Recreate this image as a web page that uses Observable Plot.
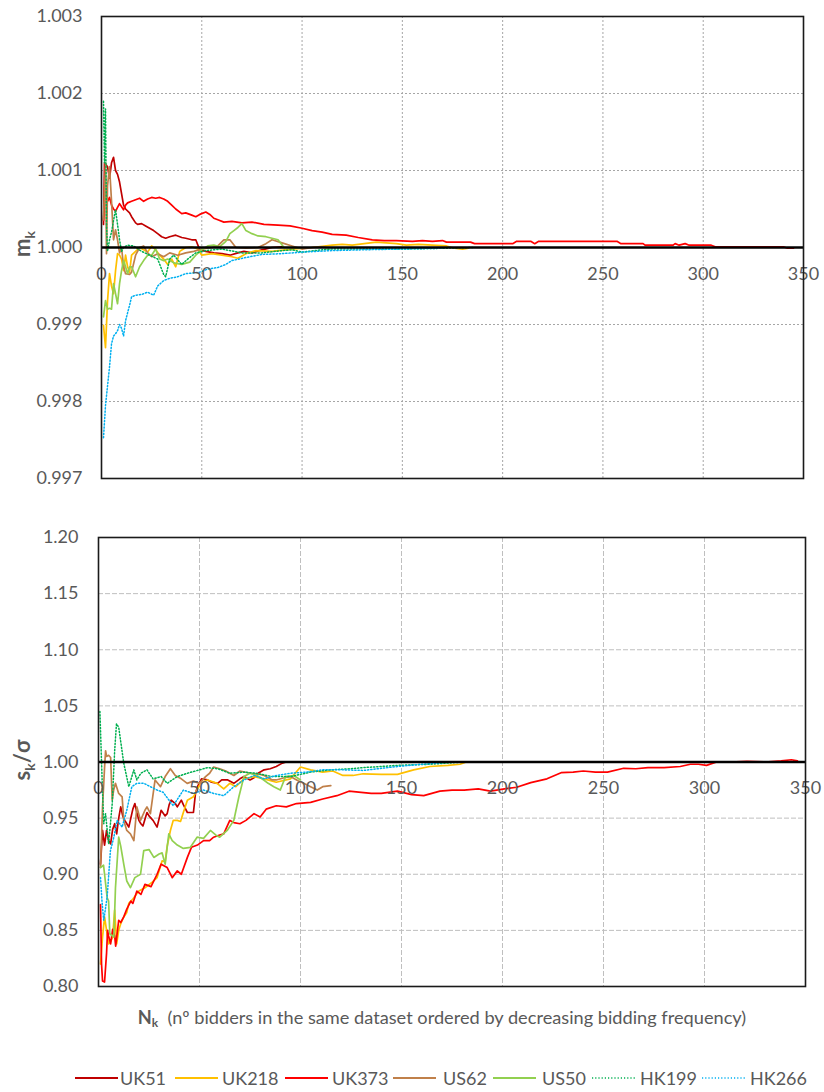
<!DOCTYPE html>
<html>
<head>
<meta charset="utf-8">
<script src="https://cdn.jsdelivr.net/npm/d3@7"></script>
<script src="https://cdn.jsdelivr.net/npm/@observablehq/plot@0.6"></script>
<style>
  html, body { margin: 0; padding: 0; background: #fff; }
  #wrap { position: relative; width: 824px; height: 1092px; font-family: Lato, "Open Sans", sans-serif; color: #595959; }
  #top, #bottom { position: absolute; left: 0; }
  #top { top: 0; }
  #bottom { top: 500px; }
  #xtitle { position: absolute; top: 1006px; left: 0; width: 884px; text-align: center; font-size: 18.2px; white-space: nowrap; }
  #xtitle b sub { font-size: 12px; vertical-align: -3px; }
  #legend { position: absolute; top: 1066px; left: 0; width: 824px; height: 26px; }
  .li { position: absolute; top: 0; height: 24px; font-size: 18px; line-height: 24px; white-space: nowrap; }
</style>
</head>
<body>
<div id="wrap">
  <div id="top"></div>
  <div id="bottom"></div>
  <div id="xtitle"><b>N<sub>k</sub></b>&nbsp; (nº bidders in the same dataset ordered by decreasing bidding frequency)</div>
  <div id="legend"></div>
</div>
<script>
// ---------- tick labels ----------
const xTicks = [0, 50, 100, 150, 200, 250, 300, 350];
const yTicksTop = [0.997, 0.998, 0.999, 1.000, 1.001, 1.002, 1.003];
const yTicksBottom = [0.80, 0.85, 0.90, 0.95, 1.00, 1.05, 1.10, 1.15, 1.20];

// ---------- series ----------
const seriesNames = ["UK51", "UK218", "UK373", "US62", "US50", "HK199", "HK266"];
const seriesColors = ["#C00000", "#FFC000", "#FF0000", "#C0804A", "#92D050", "#00B050", "#00B0F0"];
const seriesDotted = [false, false, false, false, false, true, true];

// top panel: m_k  ([N_k, value])
const UK51_m = [[1,1.0003],[1.5,1.0011],[3,1.00105],[4,1.0009],[5,1.0011],[6,1.00117],[7,1.001],[8,1.00095],[9,1.00085],[10,1.0007],[11,1.00055],[12,1.0005],[14,1.00045],[15,1.0004],[17,1.00032],[18,1.0003],[20,1.00031],[22,1.00028],[24,1.00025],[26,1.00022],[28,1.00018],[30,1.00014],[32,1.00012],[34,1.00014],[37,1.00016],[40,1.00013],[42,1.00012],[45,1.0001],[47,1.0001],[49,0.99997],[52,0.99995],[56,0.99993],[60,0.99992],[64,0.9999],[68,0.99993],[71,0.99995],[75,0.99993],[80,0.99997],[85,1.0],[90,1.00001]];
const UK218_m = [[1,0.99899],[2,0.9987],[3,0.9993],[4,0.99966],[5,0.9995],[6,0.9994],[7,0.9997],[8,0.99992],[9,0.9999],[10,0.99985],[11,0.9997],[12,0.9999],[13,0.99975],[14,0.99968],[15,0.9999],[17,0.99995],[19,1.0],[21,0.99997],[23,0.99994],[25,1.00002],[27,0.99997],[29,0.9999],[31,0.99985],[33,0.99978],[35,0.99985],[37,0.99975],[39,0.99995],[42,1.0],[45,1.00001],[48,0.99998],[50,0.9999],[55,0.99992],[60,0.9999],[65,0.99988],[68,0.99986],[72,0.99992],[77,0.99996],[85,0.99995],[95,0.99998],[105,1.0],[115,1.00003],[120,1.00004],[125,1.00003],[131,1.00005],[137,1.00007],[142,1.00006],[147,1.00005],[152,1.00003],[158,1.00004],[165,1.00003],[172,1.00002],[176,0.99999],[180,0.99998],[183,0.99999]];
const UK373_m = [[1,1.00035],[2,1.0008],[3,1.0006],[4,1.00065],[5,1.00055],[6,1.0005],[7,1.00047],[8,1.00052],[9,1.00057],[10,1.00053],[11,1.00049],[12,1.00055],[13,1.00058],[15,1.0006],[17,1.00062],[19,1.00064],[21,1.0006],[23,1.00063],[25,1.00065],[27,1.00064],[29,1.00065],[31,1.00063],[33,1.0006],[35,1.00055],[37,1.0005],[40,1.00044],[42,1.00045],[45,1.00042],[47,1.0004],[49,1.00043],[52,1.00046],[54,1.00043],[56,1.00038],[58,1.00036],[61,1.00033],[65,1.00034],[70,1.00032],[75,1.00033],[81,1.0003],[88,1.00029],[94,1.00028],[100,1.00025],[105,1.00022],[110,1.0002],[115,1.00017],[122,1.00016],[128,1.00013],[135,1.0001],[141,1.00009],[147,1.00009],[155,1.00008],[160,1.00009],[165,1.00008],[170,1.00009],[172,1.00007],[184,1.00007],[186,1.00005],[195,1.00005],[205,1.00005],[207,1.00008],[214,1.00008],[216,1.00005],[218,1.00008],[240,1.00008],[257,1.00008],[259,1.00005],[270,1.00005],[271,1.00003],[285,1.00003],[286,1.00005],[288,1.00003],[291,1.00005],[293,1.00003],[304,1.00003],[306,1.00001],[340,1.00001],[342,0.99999],[345,0.99999]];
const US62_m = [[1,1.00036],[2,1.0011],[2.5,0.99992],[3,1.0008],[4,1.00105],[5,1.0006],[6,1.0001],[7,1.00023],[8,1.0001],[9,0.99993],[10,1.0],[11,0.99975],[12,0.99966],[14,0.99965],[15,0.99968],[17,0.9999],[19,1.0],[21,1.00002],[23,0.99993],[25,0.99988],[28,0.99992],[31,0.99988],[34,0.99993],[38,0.9999],[42,0.99993],[46,0.99995],[50,0.99998],[55,1.0],[58,1.00002],[61,1.0001],[64,1.0001],[67,1.0],[72,0.99999],[78,1.0],[82,1.00005],[85,1.0001],[90,1.00006],[95,1.00002],[100,0.99998],[105,1.0],[110,1.00001],[112,1.0]];
const US50_m = [[1,0.9991],[2,0.99931],[3,0.9992],[4,0.99921],[5,0.9992],[6,0.99953],[7,0.9994],[8,0.99927],[9,0.99953],[10,0.9997],[11,0.99983],[12,0.99975],[13,0.99966],[14,0.99975],[15,0.99975],[17,0.99962],[19,0.99975],[21,0.99983],[23,0.9999],[25,0.9999],[27,0.99998],[29,0.99985],[31,0.99983],[33,0.99985],[36,0.9998],[40,0.99978],[44,0.99981],[47,0.9999],[50,0.99997],[53,1.00002],[56,1.00003],[59,1.00001],[62,1.00008],[64,1.00018],[66,1.00022],[68,1.00026],[70,1.00031],[72,1.00022],[75,1.00018],[78,1.00015],[82,1.00014],[85,1.00012],[88,1.0001],[91,1.0],[95,1.0],[99,0.99999]];
const HK199_m = [[1,1.0019],[1.5,1.0011],[2,1.0018],[2.5,1.0003],[3,0.99995],[4,1.0001],[5,1.0002],[6,1.00035],[7,1.00049],[8,1.0003],[9,1.0001],[10,0.99995],[11,1.0],[13,1.00003],[16,1.00002],[20,0.99995],[24,0.9999],[28,0.99985],[31,0.99965],[32,0.99962],[34,0.99985],[36,0.9999],[40,0.99978],[43,0.99985],[47,0.99993],[52,0.99996],[60,0.99998],[70,0.99993],[80,0.99993],[90,0.99996],[95,0.99997],[100,0.99994],[110,0.99997],[115,0.99998],[130,0.99998],[150,0.99998],[170,0.99999],[185,1.0]];
const HK266_m = [[1,0.99753],[2,0.99795],[3,0.9982],[4,0.99845],[5,0.99875],[6,0.99885],[7,0.99888],[8,0.99892],[9,0.999],[10,0.99895],[11,0.99885],[12,0.99905],[14,0.99925],[15,0.99936],[17,0.99938],[20,0.99939],[23,0.99942],[26,0.99938],[28,0.9995],[31,0.99957],[34,0.9996],[38,0.99962],[42,0.99966],[46,0.99967],[49,0.99968],[53,0.99972],[58,0.99974],[62,0.99978],[65,0.99983],[72,0.99987],[80,0.99991],[90,0.99992],[100,0.99994],[115,0.99996],[130,0.99997],[150,0.99998],[170,0.99999]];

// bottom panel: s_k / sigma  ([N_k, value])
const UK51_s = [[1,0.909],[2,0.939],[3,0.926],[4,0.939],[5,0.93],[6,0.927],[7,0.94],[8,0.945],[9,0.936],[10,0.95],[11,0.96],[12,0.952],[13,0.948],[14,0.945],[15,0.942],[16,0.95],[17,0.958],[18,0.963],[19,0.955],[20,0.948],[21,0.945],[22,0.943],[24,0.955],[25,0.952],[27,0.948],[29,0.942],[31,0.957],[33,0.952],[34,0.954],[35,0.962],[36,0.966],[38,0.963],[39,0.96],[41,0.966],[42,0.962],[44,0.955],[46,0.955],[47,0.955],[48,0.972],[49,0.978],[51,0.985],[54,0.984],[56,0.982],[59,0.981],[61,0.984],[64,0.984],[67,0.981],[70,0.985],[72,0.987],[75,0.984],[77,0.986],[79,0.99],[82,0.993],[85,0.994],[88,0.996],[91,0.999],[93,1.0]];
const UK218_s = [[1,0.82],[2,0.844],[3,0.862],[4,0.85],[5,0.838],[6,0.84],[7,0.844],[8,0.868],[9,0.838],[10,0.85],[11,0.856],[12.5,0.862],[14,0.866],[15,0.874],[17,0.878],[20,0.885],[23,0.888],[26.6,0.893],[29,0.897],[31.5,0.912],[33,0.911],[34,0.925],[35.6,0.939],[37,0.948],[39,0.948],[40.6,0.947],[42,0.955],[44,0.966],[47,0.969],[50.5,0.981],[54,0.984],[58.7,0.981],[62,0.976],[65,0.981],[68,0.978],[72,0.985],[77,0.987],[82,0.985],[88,0.982],[95,0.985],[100,0.9955],[105,0.993],[111,0.991],[116,0.992],[121,0.988],[126,0.988],[131,0.9895],[140,0.989],[148,0.989],[152,0.991],[156,0.993],[164,0.996],[173,0.997],[179,0.998],[182,1.0]];
const UK373_s = [[1,0.873],[1.5,0.82],[2,0.805],[3,0.804],[4,0.83],[4.5,0.85],[5,0.845],[6,0.838],[7,0.851],[8,0.845],[8.5,0.836],[10,0.859],[11,0.857],[12.5,0.862],[14,0.869],[16,0.876],[17,0.874],[19,0.885],[21,0.882],[23,0.891],[26,0.889],[29,0.9],[31,0.909],[34,0.906],[36.5,0.897],[39,0.903],[41,0.9],[44,0.915],[46,0.924],[49,0.926],[52,0.93],[55,0.93],[57,0.933],[60,0.935],[62,0.936],[65,0.948],[67,0.946],[70,0.945],[73,0.948],[77,0.954],[80,0.951],[83,0.958],[88,0.961],[93,0.96],[98,0.963],[105,0.964],[111,0.967],[118,0.97],[124,0.974],[130,0.973],[135,0.972],[140,0.972],[148,0.974],[155,0.971],[161,0.97],[169,0.974],[175,0.975],[181,0.975],[188,0.976],[194,0.974],[201,0.976],[207,0.9775],[214,0.9816],[222,0.985],[229,0.9905],[235,0.991],[240,0.992],[246,0.991],[252,0.991],[260,0.9944],[266,0.994],[272,0.995],[280,0.995],[288,0.996],[293,0.998],[297,0.998],[301,0.997],[306,1.0],[313,1.0],[321,1.0005],[330,1.0],[338,1.001],[343,1.002],[346,1.001]];
const US62_s = [[1,0.906],[2,0.96],[3,0.995],[3.5,1.01],[4,1.005],[5,1.006],[6,1.004],[6.8,0.966],[7.5,0.975],[8.4,0.981],[10,0.972],[11.7,0.969],[12.5,0.948],[14,0.939],[15.8,0.936],[17.5,0.93],[19,0.96],[20.8,0.948],[23,0.957],[24,0.96],[25.7,0.954],[28,0.984],[30.7,0.978],[33,0.987],[35.6,0.994],[38,0.988],[41,0.985],[43.9,0.981],[47,0.983],[50,0.981],[53,0.987],[55,0.99],[57,0.9955],[60,0.994],[63,0.992],[67,0.988],[70,0.992],[75,0.99],[80,0.989],[82,0.988],[86,0.984],[88,0.984],[92,0.986],[95,0.987],[99,0.983],[101.6,0.981],[105,0.978],[108.3,0.975],[111,0.978],[115,0.979]];
const US50_s = [[1,0.906],[2.5,0.908],[4.3,0.879],[5,0.876],[5.6,0.847],[7.6,0.844],[8.4,0.888],[10,0.933],[11,0.925],[12.5,0.909],[14,0.894],[15.8,0.888],[18,0.897],[20.8,0.9],[22.4,0.921],[25,0.922],[27.4,0.915],[30,0.918],[31.5,0.919],[33,0.909],[34.8,0.936],[36.5,0.93],[39,0.926],[42,0.923],[45.5,0.924],[48.8,0.933],[52,0.932],[55.4,0.939],[58,0.935],[60,0.933],[63.7,0.939],[67,0.948],[69.5,0.969],[72,0.987],[75,0.99],[78.5,0.988],[81.8,0.984],[84,0.981],[86.8,0.978],[90,0.975],[92.6,0.987],[96.7,0.988],[100,0.984]];
const HK199_s = [[0.7,1.045],[1.9,0.978],[2.6,0.945],[3.5,0.954],[5,0.927],[6.8,0.963],[8,1.01],[8.9,1.034],[10,1.031],[12.5,0.999],[15,0.978],[17.5,0.993],[19,0.984],[21,0.99],[24,0.993],[27,0.985],[31,0.987],[34,0.981],[39,0.987],[44,0.99],[50,0.993],[54,0.995],[59,0.994],[65,0.99],[72,0.991],[78,0.99],[86,0.987],[95,0.987],[105,0.991],[115,0.993],[125,0.994],[131,0.995],[140,0.996],[148,0.997],[164,0.998],[181,1.0],[187,1.0]];
const HK266_s = [[1,0.897],[1.8,0.874],[2.6,0.859],[4.3,0.88],[5.9,0.921],[7.6,0.933],[9.2,0.948],[11.7,0.942],[14,0.957],[16.5,0.978],[19,0.981],[22.4,0.981],[25.7,0.978],[29,0.975],[32,0.973],[37,0.961],[42,0.975],[47,0.972],[52,0.975],[57,0.972],[62,0.97],[67,0.978],[72,0.984],[77,0.988],[82,0.985],[88,0.988],[95,0.99],[103,0.991],[111,0.993],[121,0.993],[131,0.9925],[148,0.996],[160,0.998],[174,1.0]];

const topData = [UK51_m, UK218_m, UK373_m, US62_m, US50_m, HK199_m, HK266_m];
const bottomData = [UK51_s, UK218_s, UK373_s, US62_s, US50_s, HK199_s, HK266_s];

// ---------- build ----------
const FONT = "Lato, 'Open Sans', sans-serif";
const DOT = "1.2,2";

function seriesMarks(dataList) {
  return dataList.map((pts, i) => Plot.line(pts, {
    x: d => d[0], y: d => d[1],
    stroke: seriesColors[i],
    strokeWidth: seriesDotted[i] ? 1.5 : 1.7,
    strokeDasharray: seriesDotted[i] ? DOT : null,
    strokeLinejoin: "round"
  }));
}

function panel(opts) {
  return Plot.plot({
    width: 824, height: 500,
    marginLeft: opts.ml, marginRight: opts.mr, marginTop: opts.mt, marginBottom: opts.mb,
    style: { fontFamily: FONT, fontSize: "18px", color: "#595959", background: "transparent" },
    x: { domain: [0, 350], axis: null },
    y: { domain: opts.ydomain, axis: null },
    marks: [
      Plot.gridX(xTicks.slice(1, -1), { stroke: opts.gridColor, strokeOpacity: 1, strokeWidth: 1, strokeDasharray: opts.gridDash }),
      Plot.gridY(opts.yticks.slice(1, -1), { stroke: opts.gridColor, strokeOpacity: 1, strokeWidth: 1, strokeDasharray: opts.gridDash }),
      Plot.axisY({ ticks: opts.yticks, tickSize: 0, tickPadding: opts.tp, tickFormat: d3.format(opts.fmt), label: null, fill: "#595959" }),
      ...seriesMarks(opts.data),
      Plot.ruleY([1], { stroke: "#000", strokeWidth: 2.6 }),
      Plot.text(xTicks, { x: d => d, y: () => 1, dy: opts.xdy, text: d => String(d), fill: "#595959", fontSize: 18 }),
      Plot.frame({ stroke: "#1a1a1a", strokeWidth: 1.6 })
    ]
  });
}

const topPlot = panel({
  ml: 101, mr: 21, mt: 16, mb: 22, ydomain: [0.997, 1.003], yticks: yTicksTop,
  fmt: ".3f", tp: 19, xdy: 27, data: topData, gridColor: "#a6a6a6", gridDash: "2,2"
});
const bottomPlot = panel({
  ml: 98, mr: 19, mt: 37, mb: 14, ydomain: [0.80, 1.20], yticks: yTicksBottom,
  fmt: ".2f", tp: 20, xdy: 26, data: bottomData, gridColor: "#bfbfbf", gridDash: "5,2"
});
document.getElementById("top").appendChild(topPlot);
document.getElementById("bottom").appendChild(bottomPlot);

// y-axis titles (rotated, with subscripts)
function yTitle(svg, cx, cy, parts) {
  const t = d3.select(svg).append("text")
    .attr("transform", `translate(${cx},${cy}) rotate(-90)`)
    .attr("text-anchor", "middle")
    .attr("fill", "#595959")
    .attr("font-family", FONT)
    .attr("font-weight", "bold")
    .attr("font-size", 22);
  parts.forEach(p => {
    const ts = t.append("tspan").text(p.t);
    if (p.sub) ts.attr("font-size", 14).attr("dy", 5);
    if (p.back) ts.attr("dy", -5);
  });
}
yTitle(topPlot, 30, 244, [{ t: "m" }, { t: "k", sub: true }]);
yTitle(bottomPlot, 30, 260, [{ t: "s" }, { t: "k", sub: true }, { t: "/σ", back: true }]);

// legend
const legLineX = [75, 175, 285, 393, 493, 592, 702];
const legTextX = [120, 222, 332, 443, 542, 640, 750];
const legend = document.getElementById("legend");
seriesNames.forEach((name, i) => {
  const sw = document.createElementNS("http://www.w3.org/2000/svg", "svg");
  sw.setAttribute("width", 44); sw.setAttribute("height", 24);
  sw.style.position = "absolute"; sw.style.left = legLineX[i] + "px"; sw.style.top = "0px";
  const ln = document.createElementNS("http://www.w3.org/2000/svg", "line");
  ln.setAttribute("x1", 0); ln.setAttribute("x2", 43); ln.setAttribute("y1", 12); ln.setAttribute("y2", 12);
  ln.setAttribute("stroke", seriesColors[i]);
  ln.setAttribute("stroke-width", seriesDotted[i] ? 1.4 : 2);
  if (seriesDotted[i]) ln.setAttribute("stroke-dasharray", DOT);
  sw.appendChild(ln);
  legend.appendChild(sw);
  const tx = document.createElement("div");
  tx.className = "li"; tx.style.left = legTextX[i] + "px"; tx.textContent = name;
  legend.appendChild(tx);
});
</script>
</body>
</html>
